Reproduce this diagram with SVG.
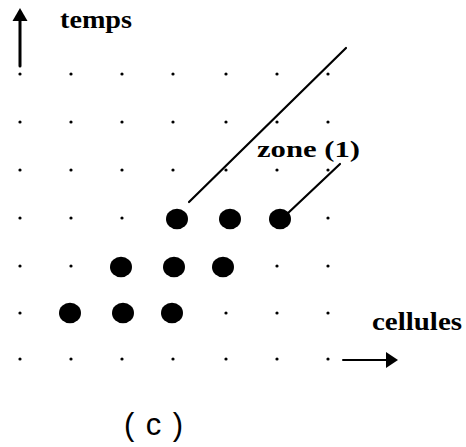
<svg xmlns="http://www.w3.org/2000/svg" width="466" height="447" viewBox="0 0 466 447">
<style>
.d{fill:#000}
.big{fill:#000}
.ln{stroke:#000;fill:none;stroke-linecap:round}
.lbl{font-family:"Liberation Serif","DejaVu Serif",serif;font-weight:bold;fill:#000}
</style>
<defs>
<circle id="sd" r="1.6" class="d"/>
<ellipse id="bd" rx="11" ry="10.3" class="big"/>
</defs>
<rect width="466" height="447" fill="#fff"/>
<g id="grid">
<use href="#sd" x="20" y="74"/><use href="#sd" x="71" y="74"/><use href="#sd" x="122" y="74"/><use href="#sd" x="173" y="74"/><use href="#sd" x="226" y="74"/><use href="#sd" x="277" y="74"/><use href="#sd" x="328" y="74"/>
<use href="#sd" x="20" y="122"/><use href="#sd" x="71" y="122"/><use href="#sd" x="122" y="122"/><use href="#sd" x="173" y="122"/><use href="#sd" x="226" y="122"/><use href="#sd" x="277" y="122"/><use href="#sd" x="328" y="122"/>
<use href="#sd" x="20" y="170"/><use href="#sd" x="71" y="170"/><use href="#sd" x="122" y="170"/><use href="#sd" x="173" y="170"/><use href="#sd" x="226" y="170"/><use href="#sd" x="277" y="170"/><use href="#sd" x="328" y="170"/>
<use href="#sd" x="20" y="218"/><use href="#sd" x="71" y="218"/><use href="#sd" x="122" y="218"/><use href="#sd" x="328" y="218"/>
<use href="#sd" x="20" y="266"/><use href="#sd" x="71" y="266"/><use href="#sd" x="277" y="266"/><use href="#sd" x="328" y="266"/>
<use href="#sd" x="20" y="313"/><use href="#sd" x="226" y="313"/><use href="#sd" x="277" y="313"/><use href="#sd" x="328" y="313"/>
<use href="#sd" x="20" y="359"/><use href="#sd" x="71" y="359"/><use href="#sd" x="122" y="359"/><use href="#sd" x="173" y="359"/><use href="#sd" x="226" y="359"/><use href="#sd" x="277" y="359"/><use href="#sd" x="328" y="359"/>
</g>
<g id="cells">
<use href="#bd" x="177" y="219"/><use href="#bd" x="230" y="219"/><use href="#bd" x="280" y="219"/>
<use href="#bd" x="121" y="267"/><use href="#bd" x="174" y="267"/><use href="#bd" x="223" y="267"/>
<use href="#bd" x="70" y="313"/><use href="#bd" x="123" y="313"/><use href="#bd" x="172" y="313"/>
</g>
<g id="connectors">
<line class="ln" x1="189" y1="202" x2="346" y2="48" stroke-width="2.2"/>
<line class="ln" x1="287" y1="214" x2="340" y2="164" stroke-width="2.2"/>
<line class="ln" x1="20" y1="66" x2="20" y2="18" stroke-width="3"/>
<polygon points="20,8 12.5,21 27.5,21" fill="#000"/>
<line class="ln" x1="343" y1="360" x2="390" y2="360" stroke-width="2"/>
<polygon points="398,360 386,352 386,368" fill="#000"/>
</g>
<g id="labels">
<text class="lbl" x="60" y="28" font-size="26" textLength="72" lengthAdjust="spacingAndGlyphs">temps</text>
<text class="lbl" x="257" y="157" font-size="24" textLength="103" lengthAdjust="spacingAndGlyphs">zone (1)</text>
<text class="lbl" x="372" y="330" font-size="25" textLength="90" lengthAdjust="spacingAndGlyphs">cellules</text>
<text x="124" y="435" font-family="Liberation Sans, Arial, sans-serif" font-size="31" textLength="59" lengthAdjust="spacing" fill="#000">( c )</text>
</g>
</svg>
